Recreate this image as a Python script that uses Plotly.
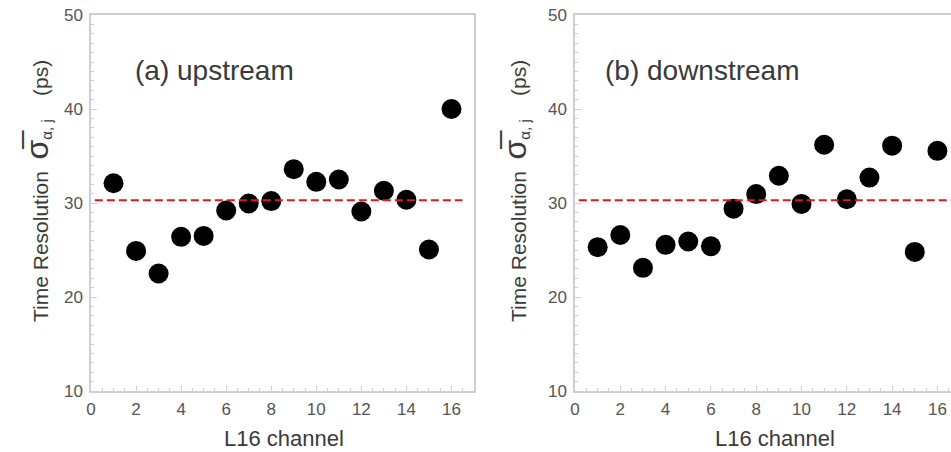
import plotly.graph_objects as go

channels = list(range(1, 17))
upstream = [32.1, 24.9, 22.5, 26.4, 26.5, 29.2, 29.95, 30.2, 33.6, 32.25, 32.5, 29.1, 31.3, 30.35, 25.05, 40.0]
downstream = [25.3, 26.6, 23.1, 25.55, 25.9, 25.4, 29.4, 30.95, 32.9, 29.9, 36.2, 30.4, 32.7, 36.1, 24.8, 35.55]
mean_up = 30.3
mean_down = 30.3
panel_labels = ["(a) upstream", "(b) downstream"]

W, H = 951, 452
FONT = "Liberation Sans, Arial, sans-serif"
AXC = "#cfcfcf"
TICKC = "#555555"
TXTC = "#3a3a3a"

fig = go.Figure()
fig.add_trace(go.Scatter(x=channels, y=upstream, mode="markers",
                         marker=dict(size=20, color="black"), xaxis="x", yaxis="y", showlegend=False))
fig.add_trace(go.Scatter(x=channels, y=downstream, mode="markers",
                         marker=dict(size=20, color="black"), xaxis="x2", yaxis="y2", showlegend=False))

ydom = [1 - 391 / H, 1 - 15 / H]

def xaxis(domain, rng, anchor):
    return dict(domain=domain, range=rng, anchor=anchor, showgrid=False, zeroline=False,
                automargin=False,
                showline=True, linecolor=AXC, linewidth=1.5, mirror=True,
                tick0=0, dtick=2,
                ticks="inside", ticklen=5, tickcolor=AXC, tickwidth=1,
                minor=dict(dtick=0.5, ticks="inside", ticklen=3, tickcolor=AXC),
                tickfont=dict(family=FONT, size=17, color=TICKC), ticklabelstandoff=2)

def yaxis(anchor, mirror):
    return dict(domain=ydom, range=[10, 50], anchor=anchor, showgrid=False, zeroline=False,
                automargin=False,
                showline=True, linecolor=AXC, linewidth=1.5, mirror=mirror,
                tick0=10, dtick=10,
                ticks="inside", ticklen=6, tickcolor=AXC, tickwidth=1,
                minor=dict(dtick=1, ticks="inside", ticklen=3, tickcolor=AXC),
                tickfont=dict(family=FONT, size=17, color=TICKC), ticklabelstandoff=3)

fig.update_layout(
    width=W, height=H, margin=dict(l=0, r=0, t=0, b=0),
    paper_bgcolor="white", plot_bgcolor="white",
    xaxis=xaxis([91 / W, 474 / W], [0, 17], "y"),
    yaxis=yaxis("x", True),
    xaxis2=xaxis([575 / W, 1.0], [0, 16.6], "y2"),
    yaxis2=yaxis("x2", False),
)

for xr, yr, m, x1 in [("x", "y", mean_up, 0.97), ("x2", "y2", mean_down, 1.0)]:
    fig.add_shape(type="line", xref=xr + " domain", yref=yr, x0=0.01, x1=x1, y0=m, y1=m,
                  line=dict(color="#e8141b", width=2, dash="8px,4px"))

ytitle = ("Time Resolution  <span style='font-size:32px'>σ\u0305</span>"
          "<sub><span style='font-size:15px'>α, j</span></sub>    (ps)")
for xc in [37, 515]:
    fig.add_annotation(text=ytitle, xref="paper", yref="paper", x=xc / W, y=1 - 191 / H,
                       xanchor="center", yanchor="middle", textangle=-90, showarrow=False,
                       font=dict(family=FONT, size=21, color=TXTC))
for xc in [284, 775]:
    fig.add_annotation(text="L16 channel", xref="paper", yref="paper", x=xc / W, y=1 - 438 / H,
                       xanchor="center", yanchor="middle", showarrow=False,
                       font=dict(family=FONT, size=22, color=TXTC))
for xl, lab in zip([133, 603], panel_labels):
    fig.add_annotation(text=lab, xref="paper", yref="paper", x=xl / W, y=1 - 70 / H,
                       xanchor="left", yanchor="middle", showarrow=False,
                       font=dict(family=FONT, size=28, color=TXTC))

fig.write_html("out.html")
